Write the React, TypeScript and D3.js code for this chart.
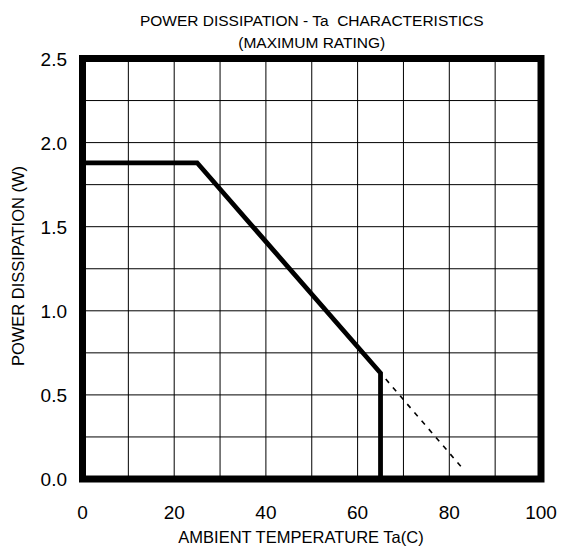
import React from "react";
import * as d3 from "d3";

const xTicks = [0, 20, 40, 60, 80, 100];
const yTicks = [0.0, 0.5, 1.0, 1.5, 2.0, 2.5];
const xGrid = [10, 20, 30, 40, 50, 60, 70, 80, 90];
const yGrid = [0.25, 0.5, 0.75, 1.0, 1.25, 1.5, 1.75, 2.0, 2.25];
const ratingTemp = [0, 25, 65, 65];
const ratingPower = [1.88, 1.88, 0.63, 0.0];
const extTemp = [65, 83];
const extPower = [0.63, 0.06];
const titleLines = ["POWER DISSIPATION - Ta  CHARACTERISTICS", "(MAXIMUM RATING)"];

export default function App() {
  const W = 562, H = 547;
  const x = d3.scaleLinear().domain([0, 100]).range([82.5, 541]);
  const y = d3.scaleLinear().domain([0, 2.5]).range([479, 58.5]);
  const line = d3.line<[number, number]>().x(d => x(d[0])).y(d => y(d[1]));
  const rating = ratingTemp.map((t, i) => [t, ratingPower[i]] as [number, number]);
  const ext = extTemp.map((t, i) => [t, extPower[i]] as [number, number]);
  const font = "'Liberation Sans', Arial, Helvetica, sans-serif";
  return (
    <svg width={W} height={H} style={{ position: "absolute", left: 0, top: 0 }}>
      <rect width={W} height={H} fill="#fff" />
      {xGrid.map(v => (
        <line key={"gx" + v} x1={x(v)} x2={x(v)} y1={y(0)} y2={y(2.5)} stroke="#000" strokeWidth={1} />
      ))}
      {yGrid.map(v => (
        <line key={"gy" + v} x1={x(0)} x2={x(100)} y1={y(v)} y2={y(v)} stroke="#000" strokeWidth={1} />
      ))}
      <path d={line(ext) || ""} fill="none" stroke="#000" strokeWidth={1.6} strokeDasharray="5,6" strokeDashoffset={-8} />
      <path d={line(rating) || ""} fill="none" stroke="#000" strokeWidth={4.8} strokeLinejoin="miter" />
      <rect x={x(0)} y={y(2.5)} width={x(100) - x(0)} height={y(0) - y(2.5)} fill="none" stroke="#000" strokeWidth={7} />
      {xTicks.map(v => (
        <text key={"xt" + v} x={x(v)} y={519} textAnchor="middle" fontFamily={font} fontSize={19}>{v}</text>
      ))}
      {yTicks.map(v => (
        <text key={"yt" + v} x={67} y={y(v) + 7} textAnchor="end" fontFamily={font} fontSize={19}>{v.toFixed(1)}</text>
      ))}
      {titleLines.map((t, i) => (
        <text key={"t" + i} x={(x(0) + x(100)) / 2} y={26 + i * 22} textAnchor="middle" fontFamily={font} fontSize={15.5} style={{ whiteSpace: "pre" }}>{t}</text>
      ))}
      <text x={301} y={543} textAnchor="middle" fontFamily={font} fontSize={16.5}>AMBIENT TEMPERATURE Ta(C)</text>
      <text transform={`translate(23.5,266) rotate(-90)`} textAnchor="middle" fontFamily={font} fontSize={16.5}>POWER DISSIPATION (W)</text>
    </svg>
  );
}
